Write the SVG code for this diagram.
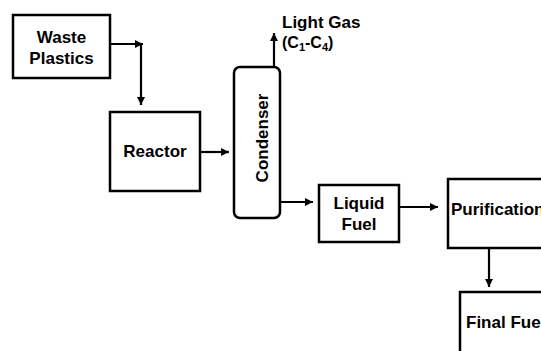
<svg xmlns="http://www.w3.org/2000/svg" width="541" height="351" viewBox="0 0 541 351">
<defs>
<style>
.box{fill:#fff;stroke:#000;stroke-width:2.5}
.ln{fill:none;stroke:#000;stroke-width:2.2}
.t{font-family:"Liberation Sans",Arial,sans-serif;font-weight:bold;font-size:17px;fill:#000}
.c{text-anchor:middle}
</style>
<marker id="ah" markerUnits="userSpaceOnUse" markerWidth="9" markerHeight="9" refX="8" refY="4" orient="auto" viewBox="0 0 9 8">
<path d="M0,0 L8,4 L0,8 z" fill="#000"/>
</marker>
</defs>
<rect width="541" height="351" fill="#fff"/>
<g id="connectors">
<path class="ln" d="M110,44 H143" marker-end="url(#ah)"/>
<path class="ln" d="M141,44 V105" marker-end="url(#ah)"/>
<path class="ln" d="M200,152 H229" marker-end="url(#ah)"/>
<path class="ln" d="M274,67 V33" marker-end="url(#ah)"/>
<path class="ln" d="M280,202 H313" marker-end="url(#ah)"/>
<path class="ln" d="M399,207 H438" marker-end="url(#ah)"/>
<path class="ln" d="M489,248 V287" marker-end="url(#ah)"/>
</g>
<g id="waste">
<rect class="box" x="13" y="15" width="97" height="63"/>
<text class="t c" x="61.5" y="43">Waste</text>
<text class="t c" x="61.5" y="64">Plastics</text>
</g>
<g id="reactor">
<rect class="box" x="110" y="112" width="90" height="79"/>
<text class="t c" x="155" y="157">Reactor</text>
</g>
<g id="condenser">
<rect class="box" x="234" y="67" width="46" height="151" rx="6"/>
<text class="t c" transform="translate(268,138) rotate(-90)">Condenser</text>
</g>
<g id="lightgas">
<text class="t" x="282" y="28">Light Gas</text>
<text class="t" x="282" y="48" style="font-size:16px">(C<tspan font-size="11" dy="3">1</tspan><tspan dy="-3">-C</tspan><tspan font-size="11" dy="3">4</tspan><tspan dy="-3">)</tspan></text>
</g>
<g id="liquid">
<rect class="box" x="319" y="185" width="80" height="57"/>
<text class="t c" x="359" y="209">Liquid</text>
<text class="t c" x="359" y="230">Fuel</text>
</g>
<g id="purification">
<rect class="box" x="448" y="179" width="110" height="69"/>
<text class="t" x="451" y="215">Purification</text>
</g>
<g id="finalfuel">
<rect class="box" x="460" y="292" width="110" height="80"/>
<text class="t" x="466" y="328">Final Fuel</text>
</g>
</svg>
